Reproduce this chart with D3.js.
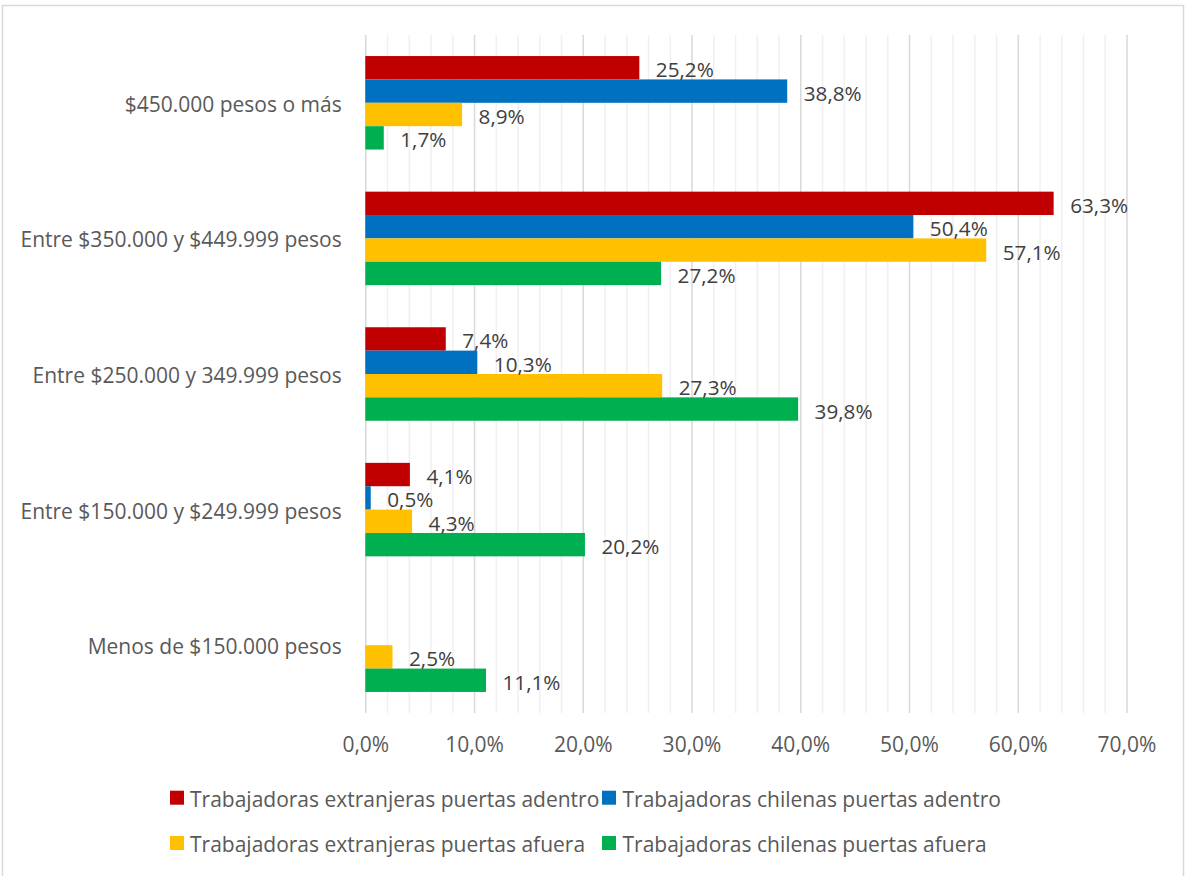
<!DOCTYPE html>
<html>
<head>
<meta charset="utf-8">
<script src="https://cdn.jsdelivr.net/npm/d3@7"></script>
<style>
  html, body { margin: 0; padding: 0; background: #fff; }
  svg { display: block; }
  text { font-family: "Open Sans", Lato, sans-serif; }
</style>
</head>
<body>
<svg id="chart" width="1185" height="876"></svg>
<script>
const categories = [
  "$450.000 pesos o más",
  "Entre $350.000 y $449.999 pesos",
  "Entre $250.000 y 349.999 pesos",
  "Entre $150.000 y $249.999 pesos",
  "Menos de $150.000 pesos"
];
const seriesNames = [
  "Trabajadoras extranjeras puertas adentro",
  "Trabajadoras chilenas puertas adentro",
  "Trabajadoras extranjeras puertas afuera",
  "Trabajadoras chilenas puertas afuera"
];
const extranjerasAdentro = [25.2, 63.3, 7.4, 4.1, null];
const chilenasAdentro    = [38.8, 50.4, 10.3, 0.5, null];
const extranjerasAfuera  = [8.9, 57.1, 27.3, 4.3, 2.5];
const chilenasAfuera     = [1.7, 27.2, 39.8, 20.2, 11.1];
const seriesValues = [extranjerasAdentro, chilenasAdentro, extranjerasAfuera, chilenasAfuera];
const colors = ["#C00000", "#0070C0", "#FFC000", "#00B050"];
const xTicks = [0, 10, 20, 30, 40, 50, 60, 70];
const xMinorTicks = [2,4,6,8,12,14,16,18,22,24,26,28,32,34,36,38,42,44,46,48,52,54,56,58,62,64,66,68];

const svg = d3.select("#chart");
const W = 1185, H = 876;

// chart border
svg.append("rect")
  .attr("x", 2.5).attr("y", 5.5).attr("width", W - 4).attr("height", H + 10)
  .attr("fill", "none").attr("stroke", "#d9d9d9").attr("stroke-width", 1.5);

const plot = { left: 365.3, right: 1126.5, top: 35, bottom: 713 };

const x = d3.scaleLinear().domain([0, 70]).range([plot.left, plot.right]);
const y = d3.scaleBand().domain(categories).range([plot.top, plot.bottom])
  .paddingInner(0.3105).paddingOuter(0.3105 / 2);
const ySeries = d3.scaleBand().domain(d3.range(seriesNames.length)).range([0, y.bandwidth()]);

const fmt = v => d3.format(".1f")(v).replace(".", ",") + "%";

// minor gridlines
svg.append("g")
  .attr("transform", `translate(0,${plot.bottom})`)
  .call(d3.axisBottom(x).tickValues(xMinorTicks).tickSize(-(plot.bottom - plot.top)).tickFormat(""))
  .call(g => g.select(".domain").remove())
  .call(g => g.selectAll("line").attr("stroke", "#f0f0f0").attr("stroke-width", 1.5));

// major gridlines + labels
svg.append("g")
  .attr("transform", `translate(0,${plot.bottom})`)
  .call(d3.axisBottom(x).tickValues(xTicks).tickSize(-(plot.bottom - plot.top)).tickPadding(0).tickFormat(d => fmt(d)))
  .call(g => g.select(".domain").remove())
  .call(g => g.selectAll("line").attr("stroke", "#d9d9d9").attr("stroke-width", 1.5))
  .call(g => g.selectAll("text")
      .attr("y", 38.7).attr("dy", null)
      .attr("fill", "#595959").attr("font-size", "21px")
      .attr("font-family", "'Open Sans', Lato, sans-serif"));

// bars
const groups = svg.append("g").selectAll("g")
  .data(categories)
  .join("g")
  .attr("transform", d => `translate(0,${y(d)})`);

groups.each(function(cat, ci) {
  const g = d3.select(this);
  const rows = seriesValues.map((arr, si) => ({ si, v: arr[ci] })).filter(d => d.v !== null);
  g.selectAll("rect")
    .data(rows)
    .join("rect")
    .attr("x", x(0))
    .attr("y", d => ySeries(d.si))
    .attr("width", d => x(d.v) - x(0))
    .attr("height", ySeries.bandwidth())
    .attr("fill", d => colors[d.si]);
  g.selectAll("text.val")
    .data(rows)
    .join("text")
    .attr("class", "val")
    .attr("x", d => x(d.v) + 16.5)
    .attr("y", d => ySeries(d.si) + ySeries.bandwidth() / 2 + 1.5)
    .attr("dominant-baseline", "central")
    .attr("font-size", "20.7px")
    .attr("fill", "#404040")
    .text(d => fmt(d.v));
});

// category labels
svg.append("g").selectAll("text")
  .data(categories)
  .join("text")
  .attr("x", 341.7)
  .attr("y", d => y(d) + y.bandwidth() / 2 + 1)
  .attr("text-anchor", "end")
  .attr("dominant-baseline", "central")
  .attr("font-size", "21px")
  .attr("fill", "#595959")
  .text(d => d);

// legend
const legendPos = [
  { sx: 170, tx: 190, cy: 797.7 },
  { sx: 602, tx: 622.5, cy: 797.7 },
  { sx: 170, tx: 190, cy: 843 },
  { sx: 602, tx: 622.5, cy: 843 }
];
const legend = svg.append("g").selectAll("g")
  .data(seriesNames)
  .join("g");
legend.append("rect")
  .attr("x", (d, i) => legendPos[i].sx)
  .attr("y", (d, i) => legendPos[i].cy - 7)
  .attr("width", 14).attr("height", 14)
  .attr("fill", (d, i) => colors[i]);
legend.append("text")
  .attr("x", (d, i) => legendPos[i].tx)
  .attr("y", (d, i) => legendPos[i].cy + 1)
  .attr("dominant-baseline", "central")
  .attr("font-size", "21px")
  .attr("fill", "#595959")
  .text(d => d);
</script>
</body>
</html>
